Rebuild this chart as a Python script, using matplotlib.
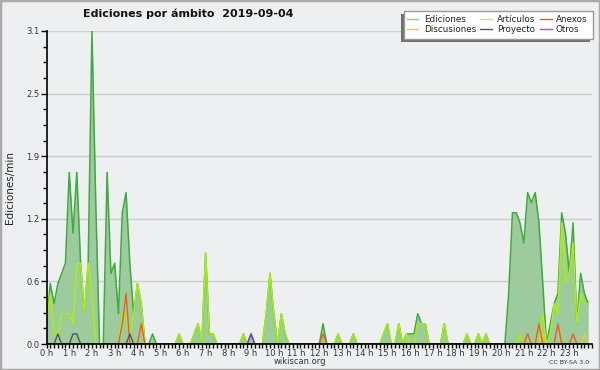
import numpy as np
import matplotlib
matplotlib.use("Agg")
import matplotlib.pyplot as plt
from matplotlib.patches import Rectangle
from matplotlib.lines import Line2D
from matplotlib.ticker import MultipleLocator, FixedLocator

# time of each 10-minute bin (minutes since midnight)
minutes = np.arange(0, 1440, 10)

# Edits per minute, one row per hour (6 bins of 10 minutes)
ediciones = [
    0.2, 0.6, 0.4, 0.6, 0.7, 0.8,
    1.7, 1.1, 1.7, 0.8, 0.3, 0.8,
    3.1, 1.4, 0.0, 0.0, 1.7, 0.7,
    0.8, 0.3, 1.3, 1.5, 0.8, 0.3,
    0.6, 0.4, 0.0, 0.0, 0.1, 0.0,
    0.0, 0.0, 0.0, 0.0, 0.0, 0.1,
    0.0, 0.0, 0.0, 0.1, 0.2, 0.0,
    0.9, 0.1, 0.1, 0.0, 0.0, 0.0,
    0.0, 0.0, 0.0, 0.0, 0.1, 0.0,
    0.1, 0.0, 0.0, 0.0, 0.3, 0.7,
    0.3, 0.0, 0.3, 0.1, 0.0, 0.0,
    0.0, 0.0, 0.0, 0.0, 0.0, 0.0,
    0.0, 0.2, 0.0, 0.0, 0.0, 0.1,
    0.0, 0.0, 0.0, 0.1, 0.0, 0.0,
    0.0, 0.0, 0.0, 0.0, 0.0, 0.1,
    0.2, 0.0, 0.0, 0.2, 0.0, 0.1,
    0.1, 0.1, 0.3, 0.2, 0.2, 0.0,
    0.0, 0.0, 0.0, 0.2, 0.0, 0.0,
    0.0, 0.0, 0.0, 0.1, 0.0, 0.0,
    0.1, 0.0, 0.1, 0.0, 0.0, 0.0,
    0.0, 0.0, 0.5, 1.3, 1.3, 1.2,
    1.0, 1.5, 1.4, 1.5, 1.2, 0.6,
    0.0, 0.2, 0.4, 0.5, 1.3, 1.1,
    0.7, 1.2, 0.2, 0.7, 0.5, 0.4,
]
articulos = [
    0.2, 0.5, 0.1, 0.1, 0.3, 0.3,
    0.3, 0.2, 0.8, 0.8, 0.3, 0.8,
    0.5, 0.0, 0.0, 0.0, 0.0, 0.0,
    0.0, 0.0, 0.3, 0.3, 0.1, 0.3,
    0.6, 0.4, 0.0, 0.0, 0.0, 0.0,
    0.0, 0.0, 0.0, 0.0, 0.0, 0.1,
    0.0, 0.0, 0.0, 0.1, 0.2, 0.0,
    0.9, 0.1, 0.1, 0.0, 0.0, 0.0,
    0.0, 0.0, 0.0, 0.0, 0.1, 0.0,
    0.0, 0.0, 0.0, 0.0, 0.3, 0.7,
    0.3, 0.0, 0.3, 0.1, 0.0, 0.0,
    0.0, 0.0, 0.0, 0.0, 0.0, 0.0,
    0.0, 0.0, 0.0, 0.0, 0.0, 0.1,
    0.0, 0.0, 0.0, 0.1, 0.0, 0.0,
    0.0, 0.0, 0.0, 0.0, 0.0, 0.1,
    0.2, 0.0, 0.0, 0.2, 0.0, 0.1,
    0.0, 0.0, 0.2, 0.2, 0.2, 0.0,
    0.0, 0.0, 0.0, 0.2, 0.0, 0.0,
    0.0, 0.0, 0.0, 0.1, 0.0, 0.0,
    0.1, 0.0, 0.1, 0.0, 0.0, 0.0,
    0.0, 0.0, 0.0, 0.0, 0.0, 0.1,
    0.0, 0.0, 0.0, 0.0, 0.0, 0.3,
    0.0, 0.1, 0.4, 0.3, 1.2, 0.6,
    0.7, 1.0, 0.2, 0.5, 0.4, 0.4,
]
anexos = [
    0, 0, 0, 0, 0, 0,
    0, 0, 0, 0, 0, 0,
    0, 0, 0, 0, 0, 0,
    0, 0, 0.2, 0.5, 0, 0,
    0, 0.2, 0, 0, 0, 0,
    0, 0, 0, 0, 0, 0,
    0, 0, 0, 0, 0, 0,
    0, 0, 0, 0, 0, 0,
    0, 0, 0, 0, 0, 0,
    0, 0, 0, 0, 0, 0,
    0, 0, 0, 0, 0, 0,
    0, 0, 0, 0, 0, 0,
    0, 0.1, 0, 0, 0, 0,
    0, 0, 0, 0, 0, 0,
    0, 0, 0, 0, 0, 0,
    0, 0, 0, 0, 0, 0,
    0, 0, 0, 0, 0, 0,
    0, 0, 0, 0, 0, 0,
    0, 0, 0, 0, 0, 0,
    0, 0, 0, 0, 0, 0,
    0, 0, 0, 0, 0, 0,
    0, 0.1, 0, 0, 0.2, 0,
    0, 0, 0, 0.2, 0, 0,
    0, 0.1, 0, 0, 0, 0,
]
discusiones = [
    0, 0, 0, 0, 0, 0,
    0, 0, 0, 0, 0, 0,
    0, 0, 0, 0, 0, 0,
    0, 0, 0, 0, 0, 0,
    0, 0, 0, 0, 0, 0,
    0, 0, 0, 0, 0, 0,
    0, 0, 0, 0, 0, 0,
    0, 0, 0, 0, 0, 0,
    0, 0, 0, 0, 0, 0,
    0, 0, 0, 0, 0, 0,
    0, 0, 0, 0, 0, 0,
    0, 0, 0, 0, 0, 0,
    0, 0, 0, 0, 0, 0,
    0, 0, 0, 0, 0, 0,
    0, 0, 0, 0, 0, 0,
    0, 0, 0, 0, 0, 0,
    0, 0, 0, 0, 0, 0,
    0, 0, 0, 0, 0, 0,
    0, 0, 0, 0, 0, 0,
    0, 0, 0, 0, 0, 0,
    0, 0, 0, 0, 0, 0,
    0, 0, 0, 0, 0, 0.1,
    0, 0, 0, 0, 0, 0,
    0, 0, 0, 0, 0.1, 0,
]
proyecto = [
    0, 0, 0, 0.1, 0, 0,
    0, 0.1, 0.1, 0, 0, 0,
    0, 0, 0, 0, 0, 0,
    0, 0, 0, 0, 0.1, 0,
] + [0] * 120
otros = [0] * 54 + [0.1] + [0] * 89

series_labels = ["Ediciones", "Discusiones", "Artículos", "Proyecto", "Anexos", "Otros"]
title = "Ediciones por ámbito  2019-09-04"
ylabel = "Ediciones/min"

BG = "#EEEFF0"
C_ED_LINE = "#3FAA3F"
C_ED_FILL = "#9DCB9D"
C_ART = "#AAEE11"
C_ANE = "#F06010"
C_DIS = "#F5C833"
C_PRO = "#555555"
C_OTR = "#7A33DD"

W, H = 600, 370
plt.rcParams['font.family'] = ['DejaVu Sans']
fig = plt.figure(figsize=(W / 100, H / 100), dpi=100, facecolor=BG)


def fx(px):
    return px / W


def fy(py):
    return 1 - py / H


x0, x1, yt, yb = 46.5, 592.0, 31.0, 344.0
ax = fig.add_axes([fx(x0), fy(yb), fx(x1) - fx(x0), (yb - yt) / H])
ax.set_facecolor(BG)

hours = minutes / 60.0
ed = np.array(ediciones)
ymax = ed.max()

ax.fill_between(hours, 0, ed, color=C_ED_FILL, lw=0, zorder=2)
ax.plot(hours, ed, color=C_ED_LINE, lw=1.1, zorder=3)
ax.plot(hours, articulos, color=C_ART, lw=1.1, zorder=4)
ax.plot(hours, discusiones, color=C_DIS, lw=1.0, zorder=5)
ax.plot(hours, anexos, color=C_ANE, lw=1.0, zorder=5)
ax.plot(hours, proyecto, color=C_PRO, lw=1.0, zorder=5)
ax.plot(hours, otros, color=C_OTR, lw=1.0, zorder=5)

ax.set_ylim(0, ymax)
ymaj = [ymax * k / 5 for k in range(6)]
ax.yaxis.set_major_locator(FixedLocator(ymaj))
ax.set_yticklabels([f"{v:.1f}" for v in ymaj])
ax.yaxis.set_minor_locator(FixedLocator([ymax * k / 20 for k in range(21)]))
ax.grid(axis='y', which='major', color='#CCCCCC', lw=1, zorder=1)

xt = list(range(25))
ax.set_xticks(xt)
ax.set_xticklabels([f"{t} h" if t < 24 else "" for t in xt])
ax.xaxis.set_minor_locator(MultipleLocator(1 / 6))
ax.set_xlim(0, 24)

for s in ['top', 'right']:
    ax.spines[s].set_visible(False)
for s in ['left', 'bottom']:
    ax.spines[s].set_color('black')
    ax.spines[s].set_linewidth(1.2)
    ax.spines[s].set_zorder(6)

ax.tick_params(axis='x', which='both', length=3, width=1, pad=0.5, labelsize=6, colors='black', labelcolor='#333333')
ax.tick_params(axis='y', which='major', length=4, width=1, pad=1, labelsize=6, labelcolor='#333333')
ax.tick_params(axis='y', which='minor', length=3, width=1)

fig.text(fx(188), fy(14), title, ha='center', va='center', fontsize=8, fontweight='bold', color='#111111')
fig.text(fx(10), fy(188), ylabel, ha='center', va='center', rotation=90, fontsize=7.5, color='#222222')
fig.text(fx(300), fy(362), "wikiscan.org", ha='center', va='center', fontsize=6, color='#333333')
fig.text(fx(569), fy(363), "CC BY-SA 3.0", ha='center', va='center', fontsize=4.5, color='#333333')

# legend box with shadow
lx0, ly0, lx1, ly1 = 404, 11, 593, 39
fig.add_artist(Rectangle((fx(lx0 - 3), fy(ly1 + 3)), (lx1 - lx0) / W, (ly1 - ly0) / H,
                         transform=fig.transFigure, facecolor='#707070', edgecolor='none', zorder=8))
fig.add_artist(Rectangle((fx(lx0), fy(ly1)), (lx1 - lx0) / W, (ly1 - ly0) / H,
                         transform=fig.transFigure, facecolor='white', edgecolor='#999999', lw=1, zorder=9))
leg_colors = ["#88D088", C_DIS, "#C8EE50", C_PRO, C_ANE, "#9955EE"]
col_x = [(407, 418, 424), (480, 492, 497), (540, 552, 556)]
row_y = [19, 29]
for k, (lab, c) in enumerate(zip(series_labels, leg_colors)):
    col, row = divmod(k, 2)
    hx0, hx1, tx = col_x[col]
    yy = row_y[row]
    fig.add_artist(Line2D([fx(hx0), fx(hx1)], [fy(yy), fy(yy)], transform=fig.transFigure,
                          color=c, lw=1, zorder=10))
    fig.text(fx(tx), fy(yy), lab, ha='left', va='center', fontsize=6.3, color='#222222', zorder=10)

# outer border
fig.add_artist(Rectangle((0, 0), 1, 1, transform=fig.transFigure, facecolor='none',
                         edgecolor='#AAAAAA', lw=2.5, zorder=11))

fig.savefig("out.png", dpi=100, facecolor=BG)
